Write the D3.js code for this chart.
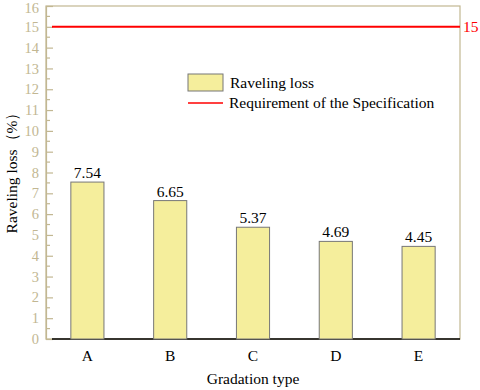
<!DOCTYPE html>
<html>
<head>
<meta charset="utf-8">
<script src="https://cdn.jsdelivr.net/npm/d3@7"></script>
<style>
  body { margin: 0; background: #fff; }
  svg text { font-family: "Liberation Serif", "Times New Roman", serif; }
</style>
</head>
<body>
<div id="chart"></div>
<script>
// data
var categories = ['A', 'B', 'C', 'D', 'E'];
var ravelingLoss = [7.54, 6.65, 5.37, 4.69, 4.45];
var requirement = 15;
var yTicks = d3.range(0, 17);

var width = 480, height = 390;
var margin = {top: 6, right: 20, bottom: 51, left: 46};
var axisColor = '#c2b792';
var fontSize = '15.5px';

var svg = d3.select('#chart').append('svg')
    .attr('width', width)
    .attr('height', height);

var x = d3.scaleBand()
    .domain(categories)
    .range([margin.left, width - margin.right])
    .paddingInner(0.6)
    .paddingOuter(0.3);

var y = d3.scaleLinear()
    .domain([0, 16])
    .range([height - margin.bottom, margin.top]);

// frame (top and right)
svg.append('rect')
    .attr('x', margin.left)
    .attr('y', y(16))
    .attr('width', width - margin.right - margin.left)
    .attr('height', y(0) - y(16))
    .attr('fill', 'none')
    .attr('stroke', axisColor)
    .attr('stroke-width', 1.2);

// left axis, ticks pointing inward
var yAxis = svg.append('g')
    .attr('transform', 'translate(' + margin.left + ',0)')
    .call(d3.axisRight(y).tickValues(yTicks).tickSize(7).tickFormat(''));
yAxis.select('.domain').attr('stroke', axisColor).attr('stroke-width', 1.2);
yAxis.selectAll('.tick line').attr('stroke', axisColor).attr('stroke-width', 1.2);

// minor ticks
svg.append('g').selectAll('line')
    .data(d3.range(0.5, 16, 1))
    .join('line')
    .attr('x1', margin.left).attr('x2', margin.left + 4)
    .attr('y1', function(d) { return y(d); })
    .attr('y2', function(d) { return y(d); })
    .attr('stroke', axisColor)
    .attr('stroke-width', 1.2);

svg.append('g').selectAll('text')
    .data(yTicks)
    .join('text')
    .attr('x', margin.left - 7)
    .attr('y', function(d) { return Math.max(y(d), 8); })
    .attr('dy', '0.35em')
    .attr('text-anchor', 'end')
    .attr('fill', axisColor)
    .style('font-size', '14.5px')
    .text(function(d) { return d; });

// bottom line
svg.append('line')
    .attr('x1', margin.left + 6).attr('x2', width - margin.right)
    .attr('y1', y(0)).attr('y2', y(0))
    .attr('stroke', '#000')
    .attr('stroke-width', 1.5);

// bars
svg.append('g').selectAll('rect')
    .data(ravelingLoss)
    .join('rect')
    .attr('x', function(d, i) { return x(categories[i]); })
    .attr('y', function(d) { return y(d); })
    .attr('width', x.bandwidth())
    .attr('height', function(d) { return y(0) - y(d); })
    .attr('fill', '#f5ee9c')
    .attr('stroke', '#777')
    .attr('stroke-width', 1);

svg.append('g').selectAll('text')
    .data(ravelingLoss)
    .join('text')
    .attr('x', function(d, i) { return x(categories[i]) + x.bandwidth() / 2; })
    .attr('y', function(d) { return y(d) - 4; })
    .attr('text-anchor', 'middle')
    .style('font-size', fontSize)
    .text(function(d) { return d.toFixed(2); });

// category labels
svg.append('g').selectAll('text')
    .data(categories)
    .join('text')
    .attr('x', function(d) { return x(d) + x.bandwidth() / 2; })
    .attr('y', y(0) + 22)
    .attr('text-anchor', 'middle')
    .style('font-size', fontSize)
    .text(function(d) { return d; });

// requirement line
svg.append('line')
    .attr('x1', margin.left + 6).attr('x2', width - margin.right)
    .attr('y1', y(requirement)).attr('y2', y(requirement))
    .attr('stroke', '#ff0000')
    .attr('stroke-width', 2);

svg.append('text')
    .attr('x', width - margin.right + 3)
    .attr('y', y(requirement))
    .attr('dy', '0.35em')
    .attr('fill', '#ff0000')
    .style('font-size', fontSize)
    .text(requirement);

// axis titles
svg.append('text')
    .attr('x', (margin.left + width - margin.right) / 2)
    .attr('y', 384)
    .attr('text-anchor', 'middle')
    .style('font-size', fontSize)
    .text('Gradation type');

svg.append('text')
    .attr('transform', 'translate(17,169) rotate(-90)')
    .attr('text-anchor', 'middle')
    .style('font-size', fontSize)
    .text('Raveling loss（%）');

// legend
var legend = svg.append('g').attr('transform', 'translate(188,74)');
legend.append('rect')
    .attr('width', 35).attr('height', 17)
    .attr('fill', '#f5ee9c')
    .attr('stroke', '#777');
legend.append('text')
    .attr('x', 42).attr('y', 14)
    .style('font-size', fontSize)
    .text('Raveling loss');
legend.append('line')
    .attr('x1', 0).attr('x2', 35)
    .attr('y1', 29).attr('y2', 29)
    .attr('stroke', '#ff0000')
    .attr('stroke-width', 1.5);
legend.append('text')
    .attr('x', 41).attr('y', 34)
    .style('font-size', fontSize)
    .text('Requirement of the Specification');
</script>
</body>
</html>
